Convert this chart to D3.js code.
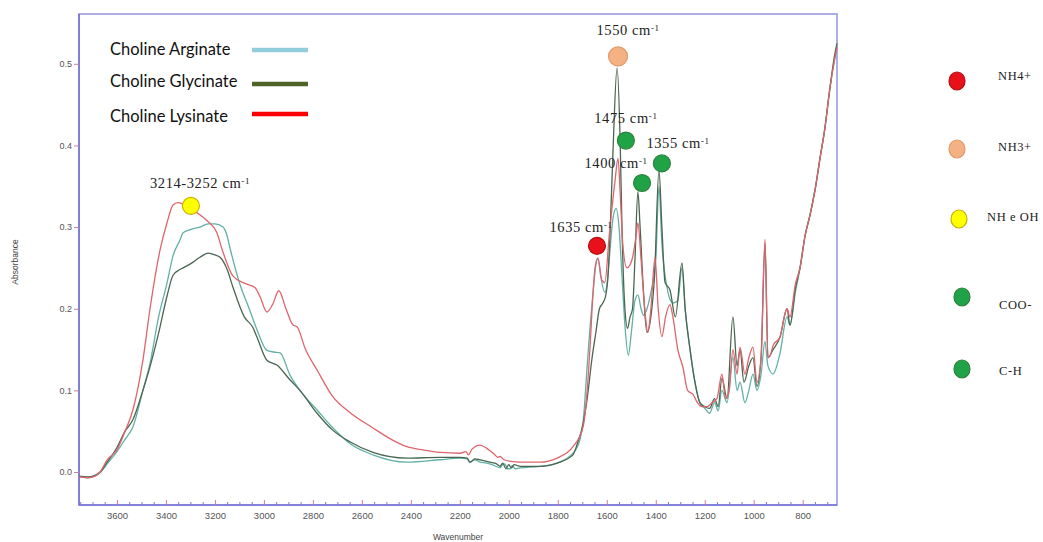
<!DOCTYPE html>
<html><head><meta charset="utf-8">
<script src="https://cdn.jsdelivr.net/npm/d3@7"></script>
<style>body{margin:0;background:#fff;} svg{display:block;}</style>
</head><body><svg id="c" width="1043" height="542"></svg>
<script>
// ---------- DATA ----------
const xTicks = [3600,3400,3200,3000,2800,2600,2400,2200,2000,1800,1600,1400,1200,1000,800];
const yTicks = [0.0,0.1,0.2,0.3,0.4,0.5];
const seriesNames = ["Choline Arginate","Choline Glycinate","Choline Lysinate"];

const arginate = [
[3755,-0.006],[3720,-0.007],[3690,-0.005],[3669,-0.001],[3640,0.01],[3600,0.025],[3567,0.04],[3535,0.055],
[3494,0.1],[3465,0.133],[3430,0.19],[3396,0.231],[3371,0.265],[3343,0.284],[3330,0.293],[3300,0.297],
[3261,0.300],[3228,0.304],[3200,0.304],[3167,0.300],[3151,0.29],[3139,0.275],[3098,0.23],[3060,0.2],
[3028,0.174],[2988,0.149],[2960,0.147],[2934,0.146],[2894,0.119],[2853,0.1],[2783,0.076],[2718,0.054],
[2649,0.035],[2555,0.021],[2416,0.012],[2281,0.015],[2199,0.017],[2170,0.016],[2160,0.012],[2138,0.015],
[2118,0.012],[2090,0.011],[2060,0.008],[2036,0.005],[2026,0.009],[2016,0.010],[2005,0.004],[1995,0.004],
[1985,0.008],[1975,0.004],[1954,0.005],[1873,0.007],[1803,0.011],[1738,0.023],[1709,0.04],[1697,0.06],
[1680,0.13],[1669,0.175],[1656,0.22],[1644,0.255],[1636,0.262],[1625,0.24],[1608,0.22],[1599,0.23],
[1590,0.26],[1575,0.31],[1562,0.323],[1550,0.3],[1538,0.24],[1526,0.18],[1512,0.143],[1500,0.17],
[1485,0.21],[1473,0.217],[1460,0.2],[1450,0.192],[1436,0.2],[1420,0.22],[1400,0.26],[1387,0.35],
[1375,0.28],[1354,0.226],[1340,0.21],[1330,0.207],[1310,0.21],[1293,0.25],[1280,0.2],[1260,0.15],
[1240,0.11],[1220,0.085],[1200,0.078],[1180,0.072],[1160,0.085],[1145,0.075],[1130,0.1],[1109,0.085],
[1085,0.14],[1068,0.1],[1056,0.11],[1036,0.085],[1020,0.1],[1003,0.12],[987,0.1],[970,0.12],[954,0.16],
[942,0.13],[921,0.12],[893,0.145],[864,0.19],[852,0.18],[830,0.22],[811,0.25],[790,0.29],[770,0.315],
[750,0.345],[729,0.385],[710,0.42],[689,0.47],[670,0.505],[660,0.52]
];

const glycinate = [
[3755,-0.005],[3720,-0.006],[3690,-0.004],[3669,0.0],[3640,0.012],[3600,0.03],[3567,0.05],[3535,0.064],
[3494,0.1],[3465,0.129],[3430,0.17],[3396,0.215],[3371,0.241],[3343,0.248],[3330,0.250],[3300,0.255],
[3261,0.263],[3228,0.268],[3200,0.266],[3179,0.263],[3150,0.248],[3126,0.226],[3080,0.19],[3045,0.177],
[3028,0.165],[2988,0.137],[2947,0.131],[2894,0.113],[2853,0.1],[2783,0.072],[2718,0.051],[2649,0.037],
[2555,0.024],[2416,0.017],[2281,0.018],[2199,0.018],[2170,0.017],[2158,0.012],[2140,0.016],[2118,0.015],
[2077,0.012],[2050,0.010],[2036,0.007],[2025,0.011],[2012,0.004],[2000,0.009],[1990,0.005],[1978,0.009],
[1954,0.007],[1873,0.007],[1803,0.011],[1738,0.021],[1720,0.035],[1700,0.055],[1680,0.09],[1660,0.14],
[1645,0.17],[1630,0.2],[1616,0.207],[1605,0.215],[1595,0.24],[1587,0.29],[1575,0.39],[1558,0.495],
[1545,0.40],[1538,0.3],[1526,0.2],[1515,0.176],[1505,0.19],[1495,0.2],[1485,0.26],[1473,0.343],
[1464,0.30],[1450,0.22],[1436,0.171],[1420,0.19],[1405,0.24],[1387,0.37],[1375,0.3],[1362,0.232],
[1342,0.223],[1320,0.19],[1293,0.256],[1280,0.2],[1260,0.15],[1240,0.11],[1220,0.085],[1200,0.08],
[1180,0.078],[1160,0.09],[1145,0.08],[1130,0.115],[1109,0.09],[1085,0.19],[1068,0.13],[1056,0.15],
[1040,0.11],[1020,0.13],[1003,0.14],[987,0.105],[970,0.14],[954,0.28],[942,0.14],[921,0.15],[893,0.165],
[864,0.2],[852,0.18],[830,0.225],[811,0.25],[790,0.29],[770,0.315],[750,0.345],[729,0.385],[710,0.42],
[689,0.47],[670,0.51],[660,0.525]
];

const lysinate = [
[3755,-0.006],[3720,-0.007],[3690,-0.005],[3669,0.0],[3640,0.015],[3600,0.027],[3567,0.05],[3535,0.076],
[3494,0.137],[3465,0.2],[3424,0.272],[3396,0.305],[3371,0.327],[3351,0.330],[3330,0.328],[3298,0.322],
[3261,0.315],[3233,0.308],[3192,0.293],[3170,0.272],[3126,0.24],[3077,0.231],[3037,0.226],[3016,0.215],
[2988,0.196],[2965,0.205],[2939,0.222],[2910,0.2],[2881,0.18],[2865,0.178],[2830,0.15],[2783,0.125],
[2718,0.092],[2649,0.073],[2555,0.054],[2480,0.04],[2416,0.031],[2350,0.027],[2281,0.024],[2199,0.023],
[2175,0.025],[2165,0.021],[2150,0.028],[2118,0.033],[2090,0.029],[2060,0.022],[2045,0.018],[2036,0.019],
[2020,0.015],[1990,0.013],[1954,0.012],[1873,0.012],[1803,0.017],[1738,0.031],[1697,0.055],[1680,0.1],
[1669,0.15],[1656,0.22],[1648,0.25],[1636,0.262],[1620,0.235],[1608,0.232],[1590,0.29],[1567,0.355],
[1554,0.384],[1545,0.34],[1535,0.28],[1518,0.25],[1497,0.26],[1480,0.29],[1473,0.305],[1460,0.26],
[1445,0.2],[1432,0.171],[1420,0.2],[1403,0.263],[1390,0.2],[1375,0.166],[1360,0.19],[1342,0.205],
[1330,0.19],[1310,0.15],[1289,0.128],[1270,0.1],[1248,0.095],[1228,0.084],[1211,0.08],[1191,0.08],
[1170,0.085],[1150,0.09],[1130,0.12],[1115,0.09],[1100,0.1],[1085,0.15],[1068,0.12],[1056,0.153],
[1036,0.12],[1020,0.14],[1003,0.153],[987,0.11],[970,0.14],[954,0.285],[942,0.14],[930,0.145],
[921,0.155],[893,0.165],[864,0.2],[852,0.19],[830,0.23],[811,0.25],[790,0.29],[770,0.315],[750,0.345],
[729,0.385],[710,0.42],[689,0.47],[670,0.505],[660,0.52]
];

// peak annotations
const peakLabels = ["3214-3252","1635","1550","1475","1400","1355"];
const peakWn     = [3298, 1640, 1554, 1522, 1456, 1375];
const peakAbs    = [0.326, 0.277, 0.509, 0.406, 0.354, 0.378];
const labelWn    = [3261, 1705, 1513, 1522, 1562, 1309];
const labelAbs   = [0.348, 0.294, 0.535, 0.427, 0.372, 0.397];
const peakGroup  = [2, 0, 1, 3, 3, 4];
const groupNames = ["NH4+","NH3+","NH e OH","COO-","C-H"];

// ---------- STYLE / LAYOUT ----------
const curveColors  = ["#62b0a6","#4a6650","#e0646c"];
const legendColors = ["#92cddc","#4f6228","#ff0000"];
const groupFill    = ["#e8101a","#f4b183","#ffff00","#20a346","#20a346"];
const groupStroke  = ["#b01010","#e09a6a","#c9b000","#2f8040","#2f8040"];
const groupY       = [81,149,219,297,369];

const svg = d3.select("#c");
const L=79, T=14, R=837, B=505;
const x = d3.scaleLinear().domain([3755,660]).range([L,R]);
const y = d3.scaleLinear().domain([-0.0404,0.561]).range([B,T]);

// frame
svg.append("rect").attr("x",L).attr("y",T).attr("width",R-L).attr("height",B-T)
  .attr("fill","none").attr("stroke","#9a9ae2").attr("stroke-width",1.6);
svg.append("line").attr("x1",L).attr("x2",L).attr("y1",T).attr("y2",B).attr("stroke","#7474d4").attr("stroke-width",1.6);
svg.append("line").attr("x1",L).attr("x2",R).attr("y1",B).attr("y2",B).attr("stroke","#7474d4").attr("stroke-width",1.6);

// x minor ticks
const minor = d3.range(700,3751,50).filter(v=>v%200!==0);
const gxm = svg.append("g").attr("transform",`translate(0,${B})`)
  .call(d3.axisBottom(x).tickValues(minor).tickSize(-3).tickFormat(""));
gxm.select(".domain").remove();
gxm.selectAll(".tick line").attr("stroke","#7a7ad8");

// x major ticks
const gx = svg.append("g").attr("transform",`translate(0,${B})`)
  .call(d3.axisBottom(x).tickValues(xTicks).tickSizeInner(-5).tickSizeOuter(0).tickPadding(7).tickFormat(d3.format("d")));
gx.select(".domain").remove();
gx.selectAll(".tick line").attr("stroke","#e07a8a");
gx.selectAll(".tick text").attr("fill","#555").style("font-family","Liberation Sans, Arial, sans-serif").style("font-size","9.5px");

// y ticks
const gy = svg.append("g").attr("transform",`translate(${L},0)`)
  .call(d3.axisLeft(y).tickValues(yTicks).tickSize(5).tickPadding(2).tickFormat(d3.format(".1f")));
gy.select(".domain").remove();
gy.selectAll(".tick line").attr("stroke","#c080a0");
gy.selectAll(".tick text").attr("fill","#555").style("font-family","Liberation Sans, Arial, sans-serif").style("font-size","9px");

// axis titles
svg.append("text").attr("x",458).attr("y",540).attr("text-anchor","middle")
  .style("font-family","Liberation Sans, Arial, sans-serif").style("font-size","8.5px").attr("fill","#444").text("Wavenumber");
svg.append("text").attr("transform","translate(18,262) rotate(-90)").attr("text-anchor","middle")
  .style("font-family","Liberation Sans, Arial, sans-serif").style("font-size","8.5px").attr("fill","#444").text("Absorbance");

// curves
const line = d3.line().x(d=>x(d[0])).y(d=>y(d[1])).curve(d3.curveMonotoneX);
const plot = svg.append("g");
[arginate, glycinate, lysinate].forEach((s,i)=>{
  plot.append("path").datum(s).attr("d",line).attr("fill","none")
    .attr("stroke",curveColors[i]).attr("stroke-width",1.3).attr("stroke-linejoin","round");
});

// series legend (top-left)
const legY = [55,87,122], lineY=[50,84,114];
seriesNames.forEach((n,i)=>{
  svg.append("text").attr("x",110).attr("y",legY[i]).text(n)
    .style("font-family","Lato, Carlito, sans-serif").style("font-size","16.5px").attr("fill","#111");
  svg.append("line").attr("x1",252).attr("x2",308).attr("y1",lineY[i]).attr("y2",lineY[i])
    .attr("stroke",legendColors[i]).attr("stroke-width",4.5);
});

// peak annotations
const serif = "Liberation Serif, Times New Roman, serif";
peakLabels.forEach((lab,i)=>{
  const t = svg.append("text").attr("x",x(labelWn[i])).attr("y",y(labelAbs[i])).attr("text-anchor","middle")
    .style("font-family",serif).style("font-size","14.5px").style("letter-spacing","0.6px").attr("fill","#222");
  t.append("tspan").text(lab+" cm");
  t.append("tspan").attr("dy","-0.45em").style("font-size","9px").text("-1");
  const g = peakGroup[i];
  svg.append("circle").attr("cx",x(peakWn[i])).attr("cy",y(peakAbs[i])).attr("r", i===2?9.5:8.5)
    .attr("fill",groupFill[g]).attr("stroke",groupStroke[g]).attr("stroke-width",1.2);
});

// group legend (right)
const gxC = [957,957,959,962,962], gxT=[998,998,987,999,999], gyT=[77,148,218,306,372];
groupNames.forEach((n,i)=>{
  svg.append("ellipse").attr("cx",gxC[i]).attr("cy",groupY[i]).attr("rx",8).attr("ry",9)
    .attr("fill",groupFill[i]).attr("stroke",groupStroke[i]).attr("stroke-width",1.2);
  svg.append("text").attr("x",gxT[i]).attr("y",gyT[i]).attr("dominant-baseline","middle").text(n)
    .style("font-family",serif).style("font-size","12.5px").style("letter-spacing","0.6px").attr("fill","#222");
});
</script></body></html>
